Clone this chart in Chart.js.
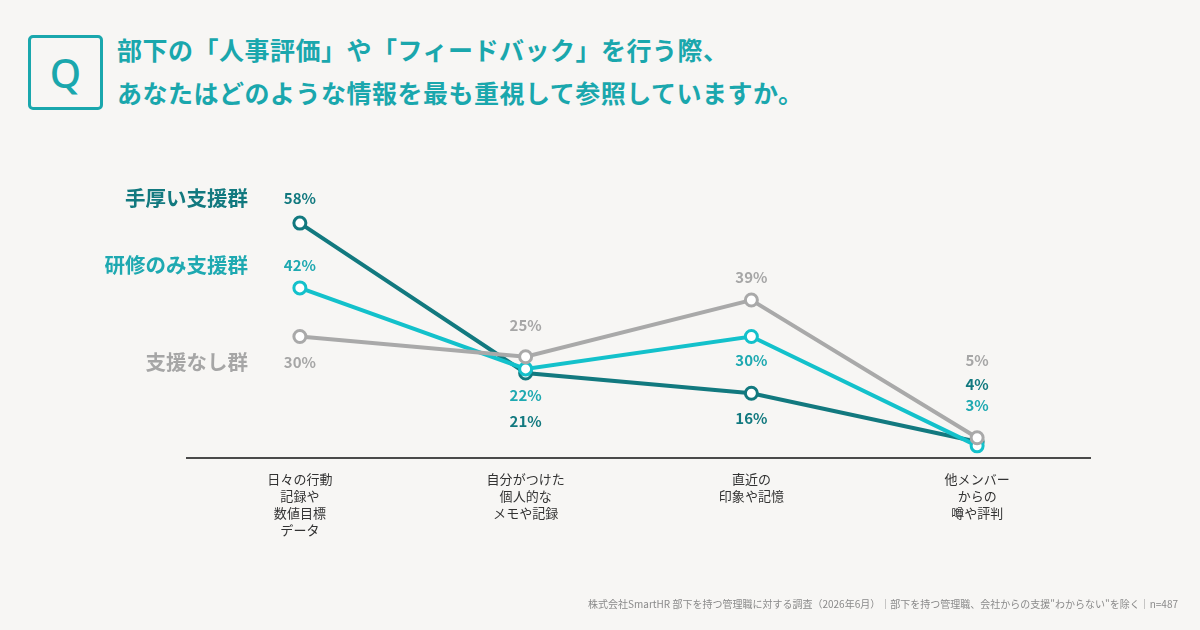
<!DOCTYPE html>
<html lang="ja">
<head>
<meta charset="utf-8">
<script src="https://cdn.jsdelivr.net/npm/chart.js@4/dist/chart.umd.min.js"></script>
<style>
  html, body { margin: 0; padding: 0; }
  body {
    width: 1200px;
    height: 630px;
    background: #f7f6f4;
    position: relative;
    overflow: hidden;
    font-family: "Noto Sans CJK JP", "Noto Sans", sans-serif;
  }
  #qbox {
    position: absolute;
    left: 28px;
    top: 35px;
    width: 69px;
    height: 69px;
    border: 3px solid #1aa7ad;
    border-radius: 5px;
    color: #1aa7ad;
    font-family: "Noto Sans", sans-serif;
    font-size: 40px;
    font-weight: 500;
    line-height: 69px;
    text-align: center;
  }
  #title {
    position: absolute;
    left: 117px;
    top: 28px;
    color: #1aa7ad;
    font-size: 25px;
    font-weight: 700;
    line-height: 43px;
    letter-spacing: 0.5px;
    white-space: nowrap;
  }
  #source {
    position: absolute;
    right: 22px;
    top: 596px;
    color: #8a8a8a;
    font-size: 10px;
  }
  #chart { position: absolute; left: 0; top: 0; }
</style>
</head>
<body>
<div id="qbox">Q</div>
<div id="title">部下の「人事評価」や「フィードバック」を行う際、<br>あなたはどのような情報を最も重視して参照していますか。</div>
<canvas id="chart" width="1200" height="630"></canvas>
<div id="source">株式会社SmartHR 部下を持つ管理職に対する調査（2026年6月）｜部下を持つ管理職、会社からの支援"わからない"を除く｜n=487</div>

<script>
// data
const categories = [
  ["日々の行動", "記録や", "数値目標", "データ"],
  ["自分がつけた", "個人的な", "メモや記録"],
  ["直近の", "印象や記憶"],
  ["他メンバー", "からの", "噂や評判"],
];
const seriesNames = ["手厚い支援群", "研修のみ支援群", "支援なし群"];
const heavySupport = [58, 21, 16, 4];
const trainingOnly = [42, 22, 30, 3];
const noSupport = [30, 25, 39, 5];

const lineColors = ["#12797f", "#13c1cb", "#a9a9a9"];
const textColors = ["#12797f", "#1ea9b1", "#a6a6a6"];

// where each value label sits relative to its point (px, + is below)
const labelShift = [
  [-25, 48, 25, -58],
  [-23, 26, 24, -41],
  [26, -31, -23, -77],
];

const valueLabels = {
  id: "valueLabels",
  afterDatasetsDraw(chart) {
    const ctx = chart.ctx;
    ctx.save();
    ctx.textBaseline = "middle";
    chart.data.datasets.forEach((ds, i) => {
      const meta = chart.getDatasetMeta(i);
      const s = ds.seriesIndex;
      ctx.fillStyle = textColors[s];
      ctx.textAlign = "center";
      ctx.font = "700 15px 'Noto Sans CJK JP', sans-serif";
      meta.data.forEach((pt, j) => {
        ctx.fillText(ds.data[j] + "%", pt.x, pt.y + labelShift[s][j]);
      });
      // series name lines up with the first label
      const first = meta.data[0];
      ctx.textAlign = "right";
      ctx.font = "700 20.5px 'Noto Sans CJK JP', sans-serif";
      ctx.fillText(seriesNames[s], 248, first.y + labelShift[s][0]);
    });
    ctx.restore();
  },
};

function lineSet(s, values) {
  return {
    label: seriesNames[s],
    seriesIndex: s,
    data: values,
    borderColor: lineColors[s],
    borderWidth: 4,
    pointBackgroundColor: "#ffffff",
    pointBorderColor: lineColors[s],
    pointBorderWidth: 3,
    pointRadius: 6,
    tension: 0,
    clip: false,
  };
}

new Chart(document.getElementById("chart").getContext("2d"), {
  type: "line",
  data: {
    labels: categories,
    // first dataset is drawn on top
    datasets: [
      lineSet(2, noSupport),
      lineSet(1, trainingOnly),
      lineSet(0, heavySupport),
    ],
  },
  options: {
    responsive: false,
    animation: false,
    layout: { padding: { left: 187, right: 110, top: 215, bottom: 82 } },
    plugins: {
      legend: { display: false },
      tooltip: { enabled: false },
    },
    scales: {
      x: {
        offset: true,
        grid: { display: false, drawTicks: false },
        border: { display: true, color: "#4a4a4a", width: 2 },
        ticks: {
          color: "#333333",
          padding: 13,
          maxRotation: 0,
          font: { family: "'Noto Sans CJK JP', sans-serif", size: 13, lineHeight: 1.3 },
        },
        afterFit(scale) {
          scale.height = 90;
        },
      },
      y: {
        display: false,
        min: 0,
        max: 60,
      },
    },
  },
  plugins: [valueLabels],
});
</script>
</body>
</html>
